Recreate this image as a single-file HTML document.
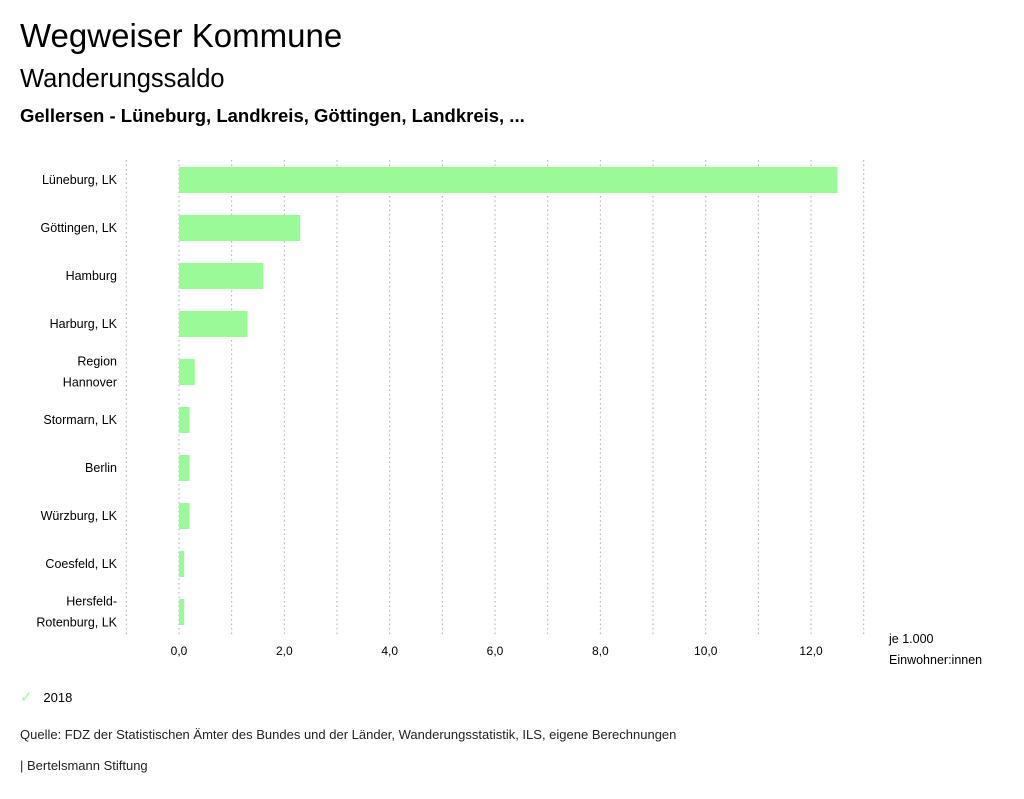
<!DOCTYPE html>
<html><head><meta charset="utf-8"><style>
body{margin:0;width:1024px;height:799px;background:#fff;font-family:"Liberation Sans",sans-serif;color:#000;overflow:hidden;position:relative}
.t{position:absolute;white-space:nowrap}
</style></head><body>
<div class="t" style="left:20px;top:17px;font-size:33px">Wegweiser Kommune</div>
<div class="t" style="left:20px;top:65px;font-size:25.5px">Wanderungssaldo</div>
<div class="t" style="left:20px;top:105px;font-size:18.5px;font-weight:bold">Gellersen - Lüneburg, Landkreis, Göttingen, Landkreis, ...</div>
<svg id="chart" width="1024" height="799" style="position:absolute;left:0;top:0"></svg>
<div class="t" style="left:20px;top:688px;font-size:13px"><span style="color:#98fb98;font-size:15px">✓</span>&nbsp;&nbsp; 2018</div>
<div class="t" style="left:20px;top:727px;font-size:13px;color:#222">Quelle: FDZ der Statistischen Ämter des Bundes und der Länder, Wanderungsstatistik, ILS, eigene Berechnungen</div>
<div class="t" style="left:20px;top:758px;font-size:13px;color:#222">| Bertelsmann Stiftung</div>
<script>
const categories=[["Lüneburg, LK"],["Göttingen, LK"],["Hamburg"],["Harburg, LK"],["Region","Hannover"],["Stormarn, LK"],["Berlin"],["Würzburg, LK"],["Coesfeld, LK"],["Hersfeld-","Rotenburg, LK"]];
const values=[12.5,2.3,1.6,1.3,0.3,0.2,0.2,0.2,0.1,0.1];
const tickValues=[0,2,4,6,8,10,12];
const tickLabels=["0,0","2,0","4,0","6,0","8,0","10,0","12,0"];
const NS="http://www.w3.org/2000/svg";
const svg=document.getElementById('chart');
const x=v=>179+v*52.67;
const y=i=>156+i*48;
function mk(t,a){const e=document.createElementNS(NS,t);for(const k in a)e.setAttribute(k,a[k]);svg.appendChild(e);return e;}
for(let g=-1;g<=13;g++){
 const l=mk('line',{x1:x(g),x2:x(g),y1:160,y2:635,stroke:'#aaa','stroke-dasharray':'1.5,3','stroke-width':1});
 
 
}
tickValues.forEach((v,i)=>{
 const t=mk('text',{x:x(v),y:655,'text-anchor':'middle','font-size':12,'font-family':'Liberation Sans, sans-serif'});
 t.textContent=tickLabels[i];
 
 
});
categories.forEach((c,i)=>{
 const r=mk('rect',{x:x(0),y:y(i)+11,width:x(values[i])-x(0),height:26,fill:'#98fb98'});
 
 
 const cy=y(i)+24;
 c.forEach((s,j)=>{
  const t=mk('text',{x:117,y:cy+4+(j-(c.length-1)/2)*21,'text-anchor':'end','font-size':12.5,'font-family':'Liberation Sans, sans-serif'});
  t.textContent=s;
  
  
 });
});
["je 1.000","Einwohner:innen"].forEach((s,j)=>{
 const t=mk('text',{x:889,y:643+j*21,'font-size':12.5,'font-family':'Liberation Sans, sans-serif'});
 t.textContent=s;
 
 
});
</script>
</body></html>
